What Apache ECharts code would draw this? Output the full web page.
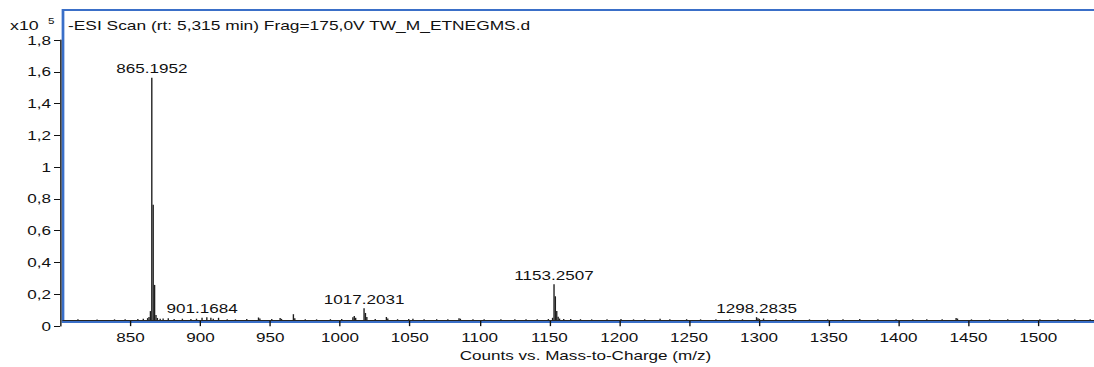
<!DOCTYPE html>
<html>
<head>
<meta charset="utf-8">
<script src="https://cdn.jsdelivr.net/npm/echarts@6/dist/echarts.min.js"></script>
<style>
  html, body { margin: 0; padding: 0; background: #fff; overflow: hidden; }
  #wrap { width: 1094px; height: 367px; overflow: hidden; }
  /* the spectrum is laid out on a narrower canvas and widened to the page */
  #chart { width: 806px; height: 367px; transform: scaleX(1.3675); transform-origin: 0 0; }
</style>
</head>
<body>
<div id="wrap"><div id="chart"></div></div>
<script>
// Centroid peaks of the negative ESI scan: m/z and counts
const peakMz = [
  812.3, 826.0, 838.5, 846.1, 855.2, 859.1, 862.2, 863.2, 864.2,
  865.1952, 866.2, 867.2, 868.2, 869.2, 871.2, 873.3, 877.0, 881.2,
  887.1, 893.2, 897.2, 901.1684, 904.6, 907.5, 909.2, 913.0, 919.2,
  925.1, 933.2, 941.6, 942.6, 951.1, 957.1, 958.1, 966.6, 967.6,
  975.1, 983.2, 993.1, 1001.2, 1009.2, 1010.2, 1011.2, 1017.2031, 1018.2,
  1019.2, 1025.2, 1033.2, 1034.2, 1041.2, 1049.2, 1052.2, 1060.2, 1069.2,
  1077.2, 1085.2, 1086.2, 1095.2, 1103.2, 1115.2, 1125.2, 1133.2, 1141.2,
  1149.2, 1152.2, 1153.2507, 1154.2, 1155.2, 1156.2, 1157.2, 1160.2, 1165.2,
  1172.2, 1180.2, 1191.2, 1201.2, 1210.2, 1218.2, 1229.2, 1236.2, 1248.2,
  1258.2, 1269.2, 1279.2, 1288.2, 1298.2835, 1299.3, 1300.3, 1303.3, 1312.2,
  1324.2, 1336.2, 1349.2, 1360.2, 1372.2, 1385.2, 1398.2, 1410.2, 1420.2,
  1431.2, 1441.2, 1442.2, 1452.2, 1465.2, 1478.2, 1489.2, 1501.2, 1514.2,
  1526.2, 1537.2
];
const peakCounts = [
  500, 400, 500, 600, 700, 900, 1300, 2000, 5800,
  155400, 74000, 22600, 3300, 1400, 900, 1100, 1200, 800,
  900, 700, 900, 1600, 1800, 1500, 900, 1500, 600,
  500, 700, 1700, 1000, 700, 1400, 800, 3800, 1200,
  600, 500, 600, 700, 1800, 2700, 1500, 7600, 4600,
  2000, 700, 2000, 1100, 600, 700, 900, 500, 600,
  600, 1200, 900, 500, 600, 500, 500, 600, 500,
  700, 1500, 23000, 15300, 5900, 2200, 1000, 800, 700,
  600, 500, 600, 700, 500, 600, 900, 500, 600,
  500, 600, 500, 600, 1900, 1200, 800, 1000, 500,
  600, 500, 500, 600, 800, 500, 500, 500, 600,
  500, 1300, 1000, 500, 500, 600, 500, 500, 600,
  500, 500
];
// Peaks annotated with their m/z
const labelledMz = [865.1952, 901.1684, 1017.2031, 1153.2507, 1298.2835];

const xTicks = [850, 900, 950, 1000, 1050, 1100, 1150, 1200, 1250, 1300, 1350, 1400, 1450, 1500];
const xRange = [801.6, 1542.1];
const yTickStep = 20000;
const yTickMax = 180000;

const SX = 1.3675;               // horizontal widening of the canvas
const CW = 806;                  // canvas width before widening
const FONT = '"Liberation Sans", Arial, sans-serif';
const TXT = '#111';

// plot frame and the separate count axis share one vertical scale
const frameTop = 10, frameBottom = 39;       // blue frame
const axisTop = 40, axisBottom = 41;         // count axis spans 0 .. 1,8 x10^5
const H = 367;
const perPx = yTickMax / ((H - axisBottom) - axisTop);
const frameMin = -((H - frameBottom) - (H - axisBottom)) * perPx;
const frameMax = ((H - axisBottom) - frameTop) * perPx;

const seriesData = peakMz.map((mz, i) => {
  const item = { value: [mz, peakCounts[i]] };
  if (labelledMz.includes(mz)) item.label = { show: true };
  return item;
});

const chart = echarts.init(document.getElementById('chart'), null, { renderer: 'svg' });
chart.setOption({
  animation: false,
  backgroundColor: '#fff',
  textStyle: { fontFamily: FONT },
  title: {
    text: '-ESI Scan (rt: 5,315 min) Frag=175,0V TW_M_ETNEGMS.d',
    left: 68 / SX, top: 18.5, padding: 0,
    textStyle: { fontSize: 12.7, fontWeight: 'normal', color: TXT, fontFamily: FONT }
  },
  graphic: [
    { type: 'text', left: 10 / SX, top: 19, style: { text: 'x10', font: '13px ' + FONT, fill: TXT } },
    { type: 'text', left: 48 / SX, top: 16.5, style: { text: '5', font: '8.5px ' + FONT, fill: TXT } }
  ],
  grid: [
    { left: 63 / SX, right: CW - 1097 / SX, top: frameTop, bottom: frameBottom,
      show: true, borderColor: '#3a6fc8', borderWidth: 2, backgroundColor: 'transparent' },
    { left: 60 / SX, width: 1, top: axisTop, bottom: axisBottom }
  ],
  xAxis: [
    {
      gridIndex: 0, type: 'value', min: xRange[0], max: xRange[1], position: 'bottom', offset: 3,
      axisLine: { show: true, lineStyle: { color: TXT, width: 1 } },
      axisTick: { show: true, length: 6, customValues: xTicks, lineStyle: { color: TXT } },
      axisLabel: {
        customValues: xTicks, margin: 6, fontSize: 12.5, color: TXT, fontFamily: FONT,
        formatter: v => String(v)
      },
      splitLine: { show: false },
      name: 'Counts vs. Mass-to-Charge (m/z)', nameLocation: 'middle', nameGap: 20,
      nameTextStyle: { fontSize: 12.5, color: TXT, fontFamily: FONT, padding: [0, 0, 0, 8] }
    },
    { gridIndex: 1, type: 'value', min: 0, max: 1, show: false }
  ],
  yAxis: [
    { gridIndex: 0, type: 'value', min: frameMin, max: frameMax, show: false },
    {
      gridIndex: 1, type: 'value', min: 0, max: yTickMax, interval: yTickStep, position: 'left',
      axisLine: { show: true, lineStyle: { color: TXT, width: 1 } },
      axisTick: { show: true, length: 6 / SX, lineStyle: { color: TXT } },
      axisLabel: {
        margin: 9 / SX, fontSize: 12.5, color: TXT, fontFamily: FONT,
        formatter: v => {
          const s = v / 100000;
          if (Number.isInteger(s)) return String(s);
          return s.toFixed(1).replace('.', ',');
        }
      },
      splitLine: { show: false }
    }
  ],
  series: [
    {
      type: 'bar', xAxisIndex: 0, yAxisIndex: 0,
      data: seriesData,
      barWidth: 1,
      itemStyle: { color: '#1e1e1e' },
      label: {
        show: false, position: 'top', distance: 2.5,
        fontSize: 12.5, color: TXT, fontFamily: FONT,
        formatter: p => p.value[0].toFixed(4)
      },
      markLine: {
        silent: true, symbol: 'none',
        label: { show: false },
        lineStyle: { color: '#222', width: 1, type: 'solid' },
        data: [{ yAxis: 0 }]
      }
    }
  ]
});
</script>
</body>
</html>
